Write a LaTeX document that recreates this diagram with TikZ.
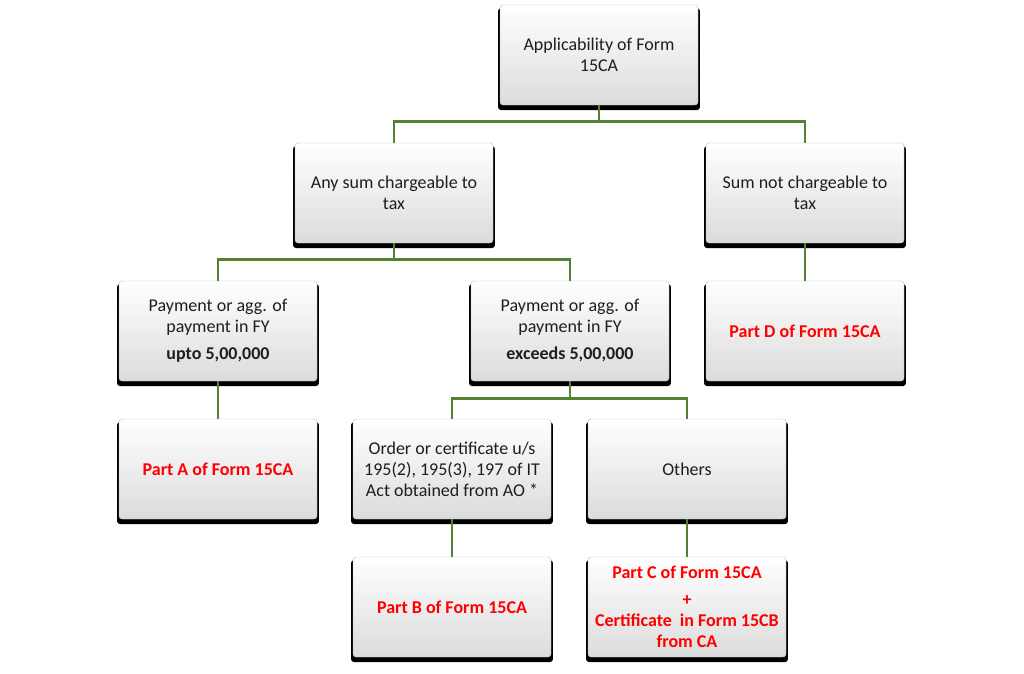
\documentclass[tikz,border=0pt]{standalone}
\usepackage{fontspec}
\setmainfont{Carlito}
\setsansfont{Carlito}
\usetikzlibrary{shadows}
\definecolor{linkgreen}{RGB}{84,130,53}
\definecolor{boxtext}{RGB}{30,30,30}
\tikzset{%
	% Specifications for style of nodes:
	base/.style = {rectangle, rounded corners=3pt, draw=black!25, line width=0.4pt,
		minimum width=198pt, minimum height=100pt, inner sep=2pt,
		text centered, font=\sffamily\fontsize{18}{21}\selectfont,
		text=boxtext, top color=white, bottom color=black!14,
		general shadow={fill=black, shadow scale=1.02, shadow yshift=-4pt}},
	part/.style = {base, text=red, font=\sffamily\bfseries\fontsize{18}{21}\selectfont},
	link/.style = {draw=linkgreen, line width=2.6pt}
}
\begin{document}
\begin{tikzpicture}[x=1pt, y=1pt, node distance=138pt, align=center]
	\useasboundingbox[fill=white] (0,0) rectangle (1024,-673);
	% Specification of nodes (position, etc.)
	\node (applic)    [base] at (599,-55)                     {Applicability of Form\\15CA};
	\node (anysum)    [base, below of=applic, xshift=-205pt]  {Any sum chargeable to\\tax};
	\node (notcharge) [base, below of=applic, xshift=206pt]   {Sum not chargeable to\\tax};
	\node (upto)      [base, below of=anysum, xshift=-176pt]  {Payment or agg. of\\payment in FY\\[6pt]\textbf{upto 5,00,000}};
	\node (exceeds)   [base, below of=anysum, xshift=176pt]   {Payment or agg. of\\payment in FY\\[6pt]\textbf{exceeds 5,00,000}};
	\node (partD)     [part, below of=notcharge]              {Part D of Form 15CA};
	\node (partA)     [part, below of=upto]                   {Part A of Form 15CA};
	\node (order)     [base, below of=exceeds, xshift=-118pt] {Order or certificate u/s\\195(2), 195(3), 197 of IT\\Act obtained from AO *};
	\node (others)    [base, below of=exceeds, xshift=117pt]  {Others};
	\node (partB)     [part, below of=order]                  {Part B of Form 15CA};
	\node (partC)     [part, below of=others]                 {Part C of Form 15CA\\[6pt]+\\Certificate\ \ in Form 15CB\\from CA};

	\draw[link] (applic.south) -- ++(0,-16) -| (anysum.north);
	\draw[link] (applic.south) -- ++(0,-16) -| (notcharge.north);
	\draw[link] (anysum.south) -- ++(0,-16) -| (upto.north);
	\draw[link] (anysum.south) -- ++(0,-16) -| (exceeds.north);
	\draw[link] (exceeds.south) -- ++(0,-17) -| (order.north);
	\draw[link] (exceeds.south) -- ++(0,-17) -| (others.north);
	\draw[link] (notcharge) -- (partD);
	\draw[link] (upto) -- (partA);
	\draw[link] (order) -- (partB);
	\draw[link] (others) -- (partC);
\end{tikzpicture}
\end{document}
